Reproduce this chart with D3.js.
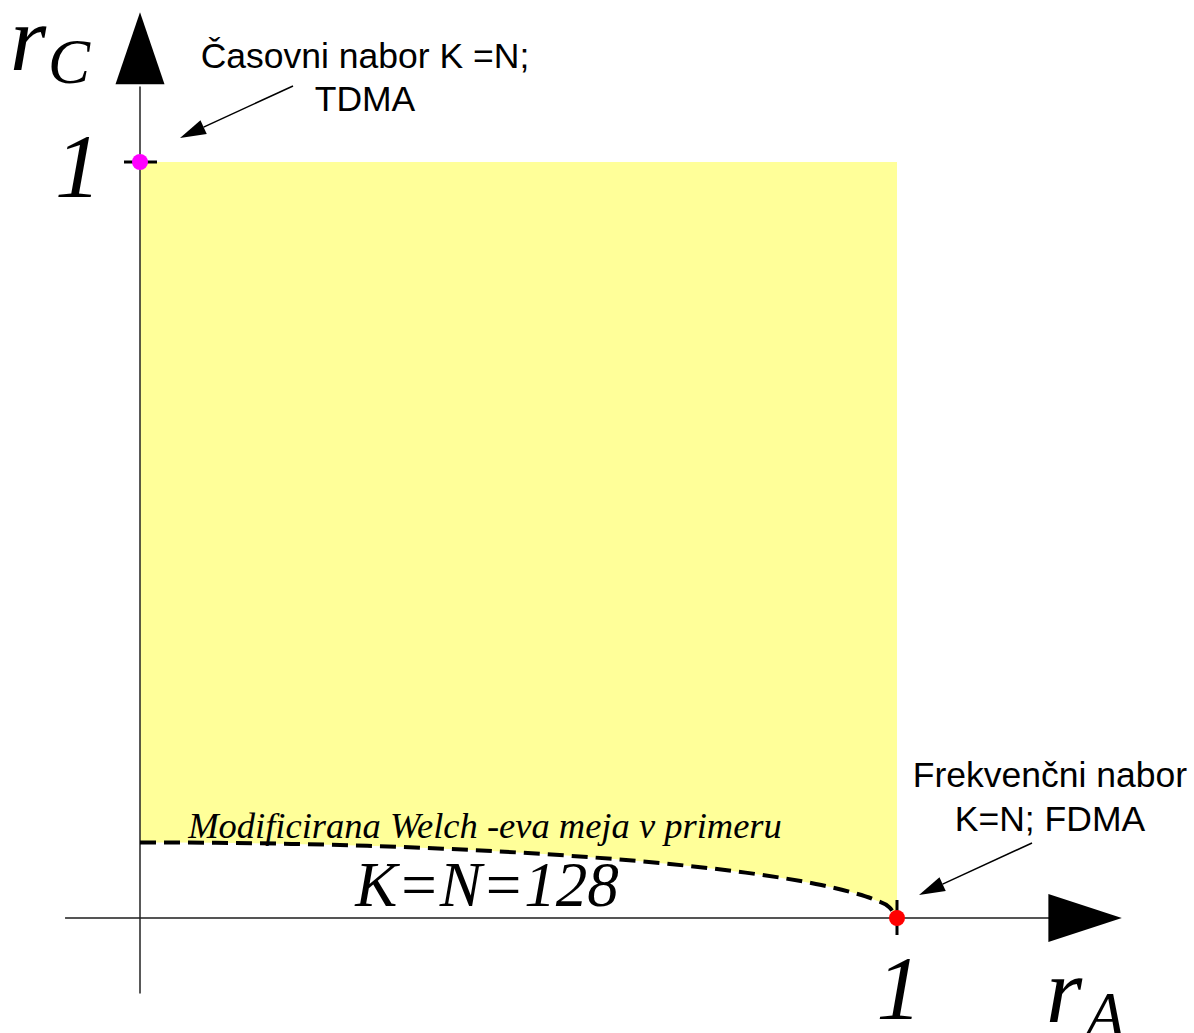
<!DOCTYPE html>
<html>
<head>
<meta charset="utf-8">
<script src="https://cdn.jsdelivr.net/npm/d3@7"></script>
<style>
  html, body { margin: 0; padding: 0; background: #fff; }
  svg { display: block; }
</style>
</head>
<body>
<svg id="chart" width="1194" height="1033"></svg>
<script>
// Modified Welch bound for K = N = 128 (r_A on the horizontal axis, r_C on the vertical axis)
const boundRA = [0, 0.1, 0.2, 0.3, 0.4, 0.5, 0.6, 0.7, 0.8, 0.85, 0.9, 0.94, 0.97, 0.99, 1];
const boundRC = [0.100, 0.0995, 0.098, 0.0955, 0.0917, 0.0866, 0.080, 0.0714, 0.060, 0.0527, 0.0436, 0.034, 0.0243, 0.014, 0];

// Extreme points: TDMA (r_A = 0, r_C = 1) and FDMA (r_A = 1, r_C = 0)
const cornerPoints = [
  { name: "TDMA", rA: 0, rC: 1, color: "#ff00ff" },
  { name: "FDMA", rA: 1, rC: 0, color: "#ff0000" }
];

const tickLabels = ["1"];
const boundLabel = ["Modificirana Welch -eva meja v primeru", "K=N=128"];
const tdmaLabel = ["Časovni nabor K =N;", "TDMA"];
const fdmaLabel = ["Frekvenčni nabor", "K=N; FDMA"];

const svg = d3.select("#chart");
const x = d3.scaleLinear().domain([0, 1]).range([140, 897]);
const y = d3.scaleLinear().domain([0, 1]).range([918, 162]);

const bound = boundRA.map((a, i) => ({ rA: a, rC: boundRC[i] }));

// Achievable region: above the bound, inside the unit square
svg.append("path")
  .datum(bound)
  .attr("fill", "#ffff99")
  .attr("d", d3.area()
    .x(d => x(d.rA))
    .y0(d => y(d.rC))
    .y1(y(1))
    .curve(d3.curveMonotoneX));

const serif = "'Liberation Serif', 'Times New Roman', serif";
const sans = "'Liberation Sans', Arial, sans-serif";

// Axes with arrowheads
svg.append("line")
  .attr("x1", x(-0.099)).attr("x2", x(1.201))
  .attr("y1", y(0)).attr("y2", y(0))
  .attr("stroke", "#555").attr("stroke-width", 2);
svg.append("line")
  .attr("x1", x(0)).attr("x2", x(0))
  .attr("y1", y(-0.1)).attr("y2", y(1.1))
  .attr("stroke", "#222").attr("stroke-width", 1.5);

svg.append("path")
  .attr("d", `M${x(1.2)},${y(0) - 24} L${x(1.297)},${y(0)} L${x(1.2)},${y(0) + 24} Z`)
  .attr("fill", "#000");
svg.append("path")
  .attr("d", `M${x(0) - 24.5},${y(1.103)} L${x(0)},${y(1.198)} L${x(0) + 24.5},${y(1.103)} Z`)
  .attr("fill", "#000");

// Unit ticks
svg.append("line")
  .attr("x1", x(0) - 16).attr("x2", x(0) + 17)
  .attr("y1", y(1)).attr("y2", y(1))
  .attr("stroke", "#000").attr("stroke-width", 3);
svg.append("line")
  .attr("x1", x(1)).attr("x2", x(1))
  .attr("y1", y(0) - 18).attr("y2", y(0) + 17)
  .attr("stroke", "#000").attr("stroke-width", 3);

// Dashed bound curve
svg.append("path")
  .datum(bound)
  .attr("fill", "none")
  .attr("stroke", "#000")
  .attr("stroke-width", 4)
  .attr("stroke-dasharray", "16,8")
  .attr("d", d3.line()
    .x(d => x(d.rA))
    .y(d => y(d.rC))
    .curve(d3.curveMonotoneX));

// Corner points
svg.selectAll("circle.corner")
  .data(cornerPoints)
  .join("circle")
  .attr("class", "corner")
  .attr("cx", d => x(d.rA))
  .attr("cy", d => y(d.rC))
  .attr("r", 8)
  .attr("fill", d => d.color);

// Tick labels
svg.append("text")
  .attr("x", 78).attr("y", 197)
  .attr("text-anchor", "middle")
  .attr("font-family", serif).attr("font-style", "italic")
  .attr("font-size", 92)
  .text(tickLabels[0]);
svg.append("text")
  .attr("x", x(1) + 2).attr("y", 1019)
  .attr("text-anchor", "middle")
  .attr("font-family", serif).attr("font-style", "italic")
  .attr("font-size", 90)
  .text(tickLabels[0]);

// Axis titles r_C and r_A
const rC = svg.append("text")
  .attr("font-family", serif).attr("font-style", "italic");
rC.append("tspan").attr("x", 10).attr("y", 70).attr("font-size", 93).text("r");
rC.append("tspan").attr("x", 48).attr("y", 83).attr("font-size", 63).text("C");

const rA = svg.append("text")
  .attr("font-family", serif).attr("font-style", "italic");
rA.append("tspan").attr("x", 1046).attr("y", 1022).attr("font-size", 93).text("r");
rA.append("tspan").attr("x", 1086).attr("y", 1036).attr("font-size", 63).text("A");

// Bound label
svg.append("text")
  .attr("x", 485).attr("y", 838)
  .attr("text-anchor", "middle")
  .attr("font-family", serif).attr("font-style", "italic")
  .attr("font-size", 36.5)
  .text(boundLabel[0]);
svg.append("text")
  .attr("x", 487).attr("y", 906)
  .attr("text-anchor", "middle")
  .attr("font-family", serif).attr("font-style", "italic")
  .attr("font-size", 63)
  .text(boundLabel[1]);

// Annotations with arrows
function annotate(lines, cx, baseline, lineGap, from, to) {
  svg.append("g").selectAll("text")
    .data(lines)
    .join("text")
    .attr("x", cx)
    .attr("y", (d, i) => baseline + i * lineGap)
    .attr("text-anchor", "middle")
    .attr("font-family", sans)
    .attr("font-size", 35.5)
    .attr("fill", "#000")
    .text(d => d);

  const dx = to[0] - from[0], dy = to[1] - from[1];
  const len = Math.hypot(dx, dy);
  const ux = dx / len, uy = dy / len;
  const headLen = 26, headHalf = 7.5;
  const bx = to[0] - ux * headLen, by = to[1] - uy * headLen;
  svg.append("line")
    .attr("x1", from[0]).attr("y1", from[1])
    .attr("x2", bx).attr("y2", by)
    .attr("stroke", "#000").attr("stroke-width", 1.5);
  svg.append("path")
    .attr("d", `M${to[0]},${to[1]} L${bx - uy * headHalf},${by + ux * headHalf} L${bx + uy * headHalf},${by - ux * headHalf} Z`)
    .attr("fill", "#000");
}

annotate(tdmaLabel, 365, 68, 43, [293, 86], [180, 138]);
annotate(fdmaLabel, 1050, 787, 44, [1032, 843], [919, 895]);
</script>
</body>
</html>
